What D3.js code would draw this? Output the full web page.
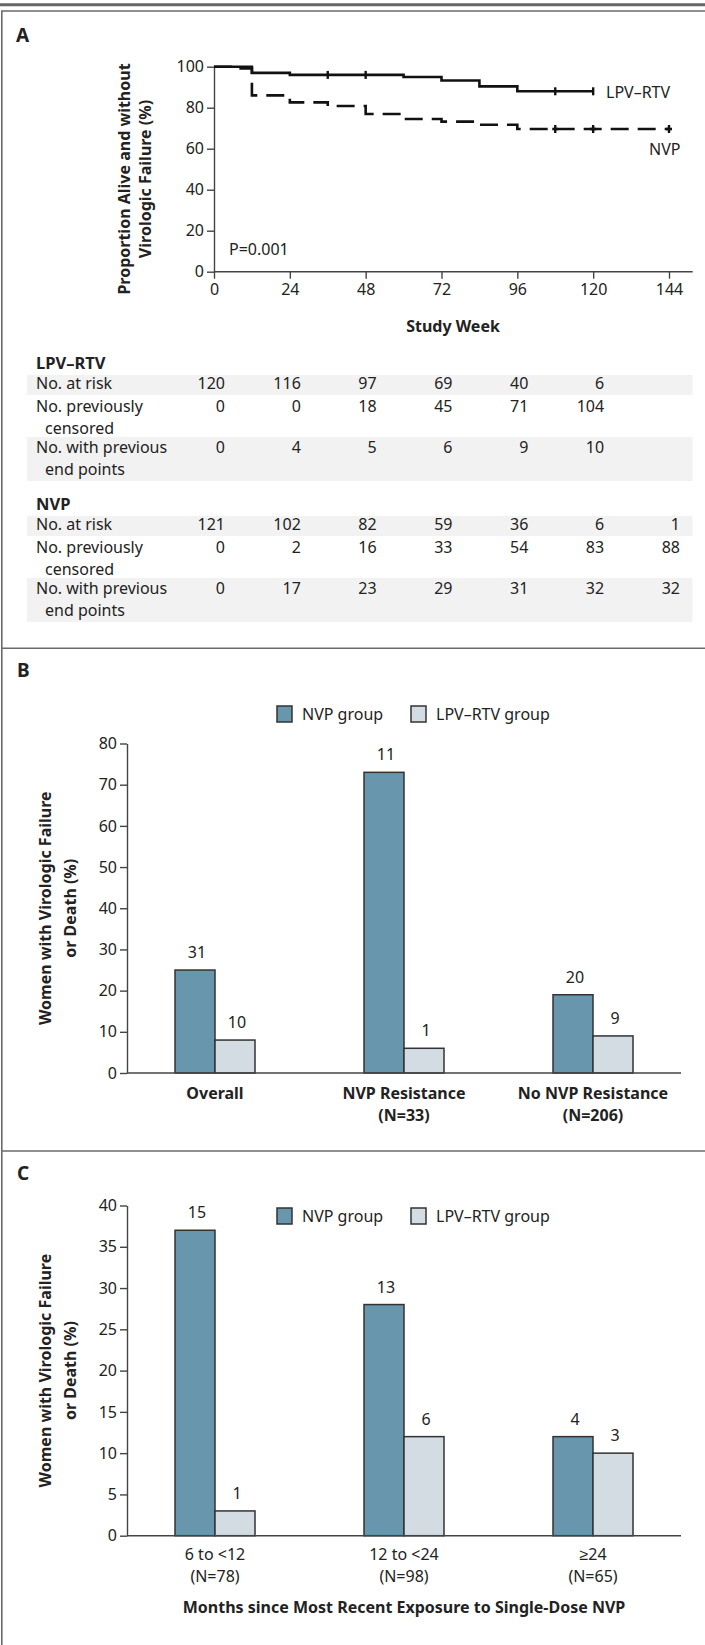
<!DOCTYPE html>
<html><head><meta charset="utf-8">
<script src="https://cdn.jsdelivr.net/npm/d3@7"></script>
<style>
body{margin:0;background:#fff}
text{font-family:"Noto Sans",sans-serif;fill:#222;font-size:16px}
.b{font-weight:bold}
</style>
</head><body><svg id="c" width="705" height="1645"></svg>
<script>
// ---------- Panel A data ----------
const studyWeeks = [0,24,48,72,96,120,144];
const survTicks = [0,20,40,60,80,100];
const lpvTimes = [0,12,24,60,72,84,96,120];
const lpvSurv  = [100,97,96,95,93.3,90.4,88,88];
const lpvCensor = [36,48,108,120];
const nvpTimes = [0,6,12,24,36,48,60,72,84,96,144];
const nvpSurv  = [100,99.2,86,82.6,80.8,76.9,74.5,73.2,71.7,69.6,69.6];
const nvpCensor = [108,120,144];
// risk table
const lpvAtRisk   = [120,116,97,69,40,6];
const lpvCensored = [0,0,18,45,71,104];
const lpvEvents   = [0,4,5,6,9,10];
const nvpAtRisk   = [121,102,82,59,36,6,1];
const nvpCensored = [0,2,16,33,54,83,88];
const nvpEvents   = [0,17,23,29,31,32,32];
// ---------- Panel B data ----------
const catsB = [["Overall"],["NVP Resistance","(N=33)"],["No NVP Resistance","(N=206)"]];
const nvpB = [25,73,19];
const lpvB = [8,6,9];
const nvpBn = [31,11,20];
const lpvBn = [10,1,9];
const ticksB = [0,10,20,30,40,50,60,70,80];
// ---------- Panel C data ----------
const catsC = [["6 to <12","(N=78)"],["12 to <24","(N=98)"],["\u226524","(N=65)"]];
const nvpC = [37,28,12];
const lpvC = [3,12,10];
const nvpCn = [15,13,4];
const lpvCn = [1,6,3];
const ticksC = [0,5,10,15,20,25,30,35,40];
const groups = ["NVP group","LPV\u2013RTV group"];

const NVPCOL = "#6896ac", LPVCOL = "#d4dce3", AX = "#444";
const svg = d3.select("#c");

// frame
svg.append("line").attr("x1",0).attr("x2",705).attr("y1",4.7).attr("y2",4.7).attr("stroke","#666").attr("stroke-width",3);
const fr = svg.append("g").attr("stroke","#6a6a6a").attr("stroke-width",1.6).attr("fill","none");
fr.append("line").attr("x1",1.8).attr("x2",1.8).attr("y1",11).attr("y2",1645);
[11,648.3,1151].forEach(y=>fr.append("line").attr("x1",1).attr("x2",705).attr("y1",y).attr("y2",y));

svg.append("text").attr("class","b").attr("x",16).attr("y",42).style("font-size","19px").text("A");
svg.append("text").attr("class","b").attr("x",17).attr("y",677).style("font-size","19px").text("B");
svg.append("text").attr("class","b").attr("x",17).attr("y",1180).style("font-size","19px").text("C");

// ---------- Panel A ----------
const xA = d3.scaleLinear().domain([0,144]).range([214,669]);
const yA = d3.scaleLinear().domain([0,100]).range([271.7,66.7]);
const gA = svg.append("g");
const xAx = gA.append("g").attr("transform",`translate(0,${yA(0)})`)
  .call(d3.axisBottom(xA).tickValues(studyWeeks).tickSize(7).tickPadding(5).tickSizeOuter(0));
xAx.select(".domain").remove();
gA.append("line").attr("x1",xA(0)).attr("x2",xA(151.5)).attr("y1",yA(0)).attr("y2",yA(0)).attr("stroke",AX).attr("stroke-width",1.4);
const yAx = gA.append("g").attr("transform",`translate(${xA(0)},0)`)
  .call(d3.axisLeft(yA).tickValues(survTicks).tickSize(7).tickPadding(3).tickSizeOuter(0));
[xAx,yAx].forEach(a=>{a.selectAll("line").attr("stroke",AX).attr("stroke-width",1.4);
  a.selectAll(".domain").attr("stroke",AX).attr("stroke-width",1.4);
  a.selectAll("text").style("font-size","16px").style("font-family","'Noto Sans',sans-serif").attr("fill","#222");});

function stepVal(times, vals, t){let v=vals[0];for(let i=0;i<times.length;i++){if(times[i]<=t)v=vals[i];}return v;}
const line = d3.line().x(d=>xA(d[0])).y(d=>yA(d[1])).curve(d3.curveStepAfter);
const lpvPts = lpvTimes.map((t,i)=>[t,lpvSurv[i]]);
const nvpPts = nvpTimes.map((t,i)=>[t,nvpSurv[i]]);
gA.append("path").attr("d",line(lpvPts)).attr("fill","none").attr("stroke","#111").attr("stroke-width",2.6);
gA.append("path").attr("d",line(nvpPts)).attr("fill","none").attr("stroke","#111").attr("stroke-width",2.6).attr("stroke-dasharray","18,9");
lpvCensor.forEach(t=>{const y=yA(stepVal(lpvTimes,lpvSurv,t));
  gA.append("line").attr("x1",xA(t)).attr("x2",xA(t)).attr("y1",y-4).attr("y2",y+4).attr("stroke","#111").attr("stroke-width",2.4);});
nvpCensor.forEach(t=>{const y=yA(stepVal(nvpTimes,nvpSurv,t));
  gA.append("line").attr("x1",xA(t)).attr("x2",xA(t)).attr("y1",y-4).attr("y2",y+4).attr("stroke","#111").attr("stroke-width",2.4);
  gA.append("line").attr("x1",xA(t)-3).attr("x2",xA(t)+3).attr("y1",y).attr("y2",y).attr("stroke","#111").attr("stroke-width",2.6);});
gA.append("text").attr("x",606).attr("y",98).text("LPV\u2013RTV");
gA.append("text").attr("x",649).attr("y",155).text("NVP");
gA.append("text").attr("x",229).attr("y",255).text("P=0.001");
gA.append("text").attr("class","b").attr("x",453).attr("y",332).attr("text-anchor","middle").text("Study Week");
const ylA = gA.append("text").attr("class","b").attr("text-anchor","middle").attr("transform",`translate(130,179) rotate(-90)`);
ylA.append("tspan").attr("x",0).attr("dy",0).text("Proportion Alive and without");
ylA.append("tspan").attr("x",0).attr("dy",21).text("Virologic Failure (%)");

// risk table
function tableBlock(name, base, rows){
  const g = svg.append("g");
  g.append("rect").attr("x",27).attr("width",665.5).attr("y",base+6).attr("height",20).attr("fill","#f2f2f2");
  g.append("rect").attr("x",27).attr("width",665.5).attr("y",base+68).attr("height",44).attr("fill","#f2f2f2");
  g.append("text").attr("class","b").attr("x",36).attr("y",base).style("font-size","16.5px").text(name);
  const rowY = [base+20, base+43, base+84];
  const labels = [["No. at risk"],["No. previously","censored"],["No. with previous","end points"]];
  labels.forEach((ls,i)=>{
    ls.forEach((l,j)=>g.append("text").attr("x",j?45:36).attr("y",rowY[i]+j*21.5).text(l));
    g.selectAll(null).data(rows[i]).enter().append("text")
      .attr("x",(d,k)=>xA(studyWeeks[k])+11).attr("y",rowY[i]).attr("text-anchor","end").text(d=>d);
  });
}
tableBlock("LPV\u2013RTV",369,[lpvAtRisk,lpvCensored,lpvEvents]);
tableBlock("NVP",510,[nvpAtRisk,nvpCensored,nvpEvents]);

// ---------- Bar panels ----------
function barPanel(cats, nv, lv, nvN, lvN, ticks, y0, yTop, legendY, boldCats, catY){
  const x0 = d3.scaleBand().domain(cats.map((c,i)=>i)).range([120.5,687.5]).padding(0);
  const x1 = d3.scaleBand().domain([0,1]).range([x0.bandwidth()/2-40, x0.bandwidth()/2+40]).padding(0);
  const y = d3.scaleLinear().domain([0,ticks[ticks.length-1]]).range([y0,yTop]);
  const g = svg.append("g");
  const data = cats.map((c,i)=>[{k:0,v:nv[i],n:nvN[i],i},{k:1,v:lv[i],n:lvN[i],i}]).flat();
  g.selectAll("rect.bar").data(data).enter().append("rect")
    .attr("x",d=>x0(d.i)+x1(d.k)).attr("width",x1.bandwidth())
    .attr("y",d=>y(d.v)).attr("height",d=>y(0)-y(d.v))
    .attr("fill",d=>d.k?LPVCOL:NVPCOL).attr("stroke","#333").attr("stroke-width",1.5);
  g.selectAll("text.val").data(data).enter().append("text")
    .attr("x",d=>x0(d.i)+x1(d.k)+x1.bandwidth()/2+2).attr("y",d=>y(d.v)-12).attr("text-anchor","middle").text(d=>d.n);
  const ya = g.append("g").attr("transform","translate(127,0)")
    .call(d3.axisLeft(y).tickValues(ticks).tickSize(7).tickPadding(3).tickSizeOuter(0));
  ya.selectAll("line").attr("stroke",AX).attr("stroke-width",1.4);
  ya.select(".domain").attr("stroke",AX).attr("stroke-width",1.4);
  ya.selectAll("text").style("font-size","16px").style("font-family","'Noto Sans',sans-serif").attr("fill","#222");
  g.append("line").attr("x1",127).attr("x2",681).attr("y1",y(0)).attr("y2",y(0)).attr("stroke",AX).attr("stroke-width",1.4);
  cats.forEach((c,i)=>{
    c.forEach((l,j)=>g.append("text").attr("class",boldCats?"b":null).attr("x",x0(i)+x0.bandwidth()/2).attr("y",catY+j*22).attr("text-anchor","middle").text(l));
  });
  // legend
  const lx = [277,411];
  groups.forEach((gname,i)=>{
    g.append("rect").attr("x",lx[i]).attr("y",legendY-8).attr("width",15).attr("height",16)
      .attr("fill",i?LPVCOL:NVPCOL).attr("stroke","#333").attr("stroke-width",1.5);
    g.append("text").attr("x",lx[i]+25).attr("y",legendY+6).text(gname);
  });
  const yl = g.append("text").attr("class","b").attr("text-anchor","middle").attr("transform",`translate(51,${(y0+yTop)/2}) rotate(-90)`);
  yl.append("tspan").attr("x",0).attr("dy",0).text("Women with Virologic Failure");
  yl.append("tspan").attr("x",0).attr("dy",25).text("or Death (%)");
}
barPanel(catsB,nvpB,lpvB,nvpBn,lpvBn,ticksB,1073,743.5,714,true,1099);
barPanel(catsC,nvpC,lpvC,nvpCn,lpvCn,ticksC,1535.7,1205.5,1216,false,1560);
svg.append("text").attr("class","b").attr("x",404).attr("y",1613).attr("text-anchor","middle").text("Months since Most Recent Exposure to Single-Dose NVP");
</script></body></html>
